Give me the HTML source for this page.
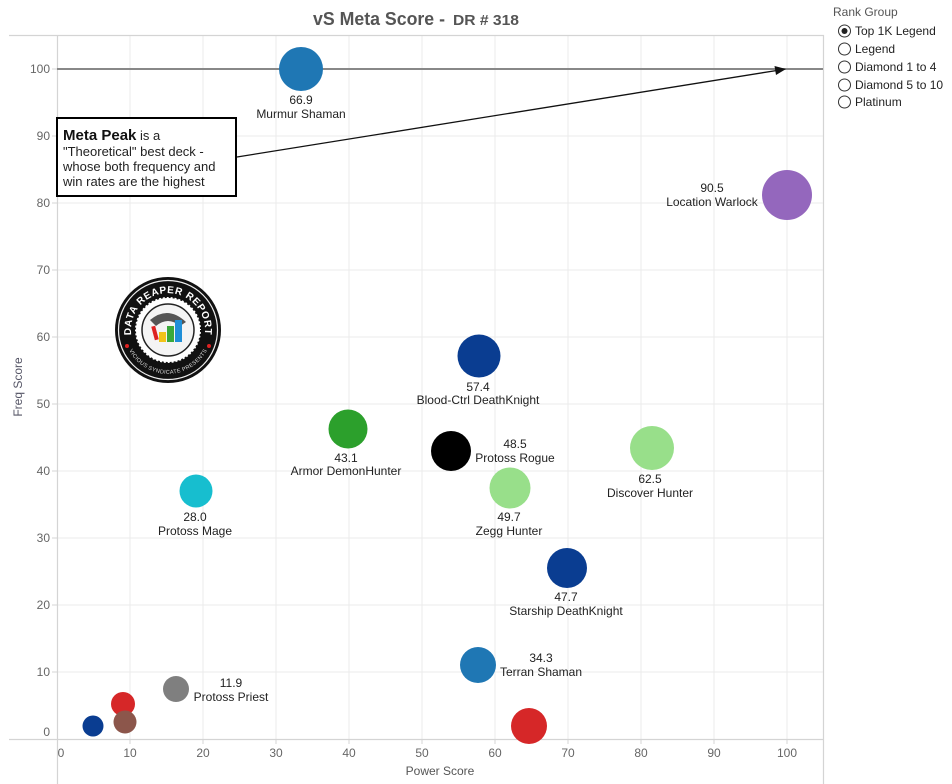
<!DOCTYPE html>
<html><head><meta charset="utf-8"><style>
html,body{margin:0;padding:0;background:#fff;}
svg{display:block;font-family:"Liberation Sans",Arial,sans-serif;}
</style></head><body>
<svg width="952" height="784" viewBox="0 0 952 784" xmlns="http://www.w3.org/2000/svg">
<!-- title -->
<text x="313" y="25" font-size="18" font-weight="bold" fill="#555" textLength="132" lengthAdjust="spacingAndGlyphs">vS Meta Score -</text>
<text x="453" y="25" font-size="15" font-weight="bold" fill="#555" textLength="66" lengthAdjust="spacingAndGlyphs">DR # 318</text>

<!-- gridlines -->
<g stroke="#ebebeb" stroke-width="1">
<line x1="130" y1="35" x2="130" y2="739"/><line x1="203" y1="35" x2="203" y2="739"/>
<line x1="276" y1="35" x2="276" y2="739"/><line x1="349" y1="35" x2="349" y2="739"/>
<line x1="422" y1="35" x2="422" y2="739"/><line x1="495" y1="35" x2="495" y2="739"/>
<line x1="568" y1="35" x2="568" y2="739"/><line x1="641" y1="35" x2="641" y2="739"/>
<line x1="714" y1="35" x2="714" y2="739"/><line x1="787" y1="35" x2="787" y2="739"/>
<line x1="57" y1="136" x2="823" y2="136"/><line x1="57" y1="203" x2="823" y2="203"/>
<line x1="57" y1="270" x2="823" y2="270"/><line x1="57" y1="337" x2="823" y2="337"/>
<line x1="57" y1="404" x2="823" y2="404"/><line x1="57" y1="471" x2="823" y2="471"/>
<line x1="57" y1="538" x2="823" y2="538"/><line x1="57" y1="605" x2="823" y2="605"/>
<line x1="57" y1="672" x2="823" y2="672"/>
</g>
<!-- borders/axes -->
<g stroke="#d4d4d4" stroke-width="1.2">
<line x1="9" y1="35.5" x2="824" y2="35.5"/>
<line x1="9" y1="739.5" x2="824" y2="739.5"/>
<line x1="57.5" y1="35" x2="57.5" y2="784"/>
<line x1="823.5" y1="35" x2="823.5" y2="784"/>
</g>
<!-- ticks -->
<g stroke="#d4d4d4" stroke-width="1">
<line x1="52" y1="69" x2="57" y2="69"/><line x1="52" y1="136" x2="57" y2="136"/><line x1="52" y1="203" x2="57" y2="203"/>
<line x1="52" y1="270" x2="57" y2="270"/><line x1="52" y1="337" x2="57" y2="337"/><line x1="52" y1="404" x2="57" y2="404"/>
<line x1="52" y1="471" x2="57" y2="471"/><line x1="52" y1="538" x2="57" y2="538"/><line x1="52" y1="605" x2="57" y2="605"/>
<line x1="52" y1="672" x2="57" y2="672"/>
<line x1="130" y1="739" x2="130" y2="744"/><line x1="203" y1="739" x2="203" y2="744"/><line x1="276" y1="739" x2="276" y2="744"/>
<line x1="349" y1="739" x2="349" y2="744"/><line x1="422" y1="739" x2="422" y2="744"/><line x1="495" y1="739" x2="495" y2="744"/>
<line x1="568" y1="739" x2="568" y2="744"/><line x1="641" y1="739" x2="641" y2="744"/><line x1="714" y1="739" x2="714" y2="744"/>
<line x1="787" y1="739" x2="787" y2="744"/>
</g>
<!-- y labels -->
<g font-size="12" fill="#666" text-anchor="end">
<text x="50" y="73">100</text><text x="50" y="140">90</text><text x="50" y="207">80</text>
<text x="50" y="274">70</text><text x="50" y="341">60</text><text x="50" y="408">50</text>
<text x="50" y="475">40</text><text x="50" y="542">30</text><text x="50" y="609">20</text>
<text x="50" y="676">10</text><text x="50" y="736">0</text>
</g>
<!-- x labels -->
<g font-size="12" fill="#666" text-anchor="middle">
<text x="61" y="757">0</text><text x="130" y="757">10</text><text x="203" y="757">20</text>
<text x="276" y="757">30</text><text x="349" y="757">40</text><text x="422" y="757">50</text>
<text x="495" y="757">60</text><text x="568" y="757">70</text><text x="641" y="757">80</text>
<text x="714" y="757">90</text><text x="787" y="757">100</text>
</g>
<text x="440" y="775" font-size="12" fill="#555" text-anchor="middle">Power Score</text>
<text transform="translate(22,387) rotate(-90)" font-size="12" fill="#556" text-anchor="middle">Freq Score</text>

<!-- meta peak line -->
<line x1="57" y1="69" x2="823" y2="69" stroke="#888" stroke-width="2"/>

<!-- logo -->
<g>
<circle cx="168" cy="330" r="53" fill="#111"/>
<circle cx="168" cy="330" r="49.5" fill="none" stroke="#eee" stroke-width="1.2"/>
<circle cx="168" cy="330" r="33" fill="#fff" stroke="#111" stroke-width="2" stroke-dasharray="2 2"/>
<circle cx="168" cy="330" r="26" fill="#f4f4f4" stroke="#222" stroke-width="1.5"/>
<defs>
<path id="arcTop" d="M133.2,342.7 A37,37 0 1 1 202.8,342.7"/>
<path id="arcBot" d="M131,345 A40,40 0 0 0 205,345"/>
</defs>
<text font-size="10" font-weight="bold" fill="#fff" letter-spacing="0.6"><textPath href="#arcTop" startOffset="50%" text-anchor="middle">DATA REAPER REPORT</textPath></text>
<text font-size="5.5" fill="#ddd" dy="4"><textPath href="#arcBot" startOffset="50%" text-anchor="middle">VICIOUS SYNDICATE PRESENTS</textPath></text>
<circle cx="127" cy="346" r="2" fill="#d22"/><circle cx="209" cy="346" r="2" fill="#d22"/>
<path d="M150,320 Q168,305 186,322 L180,326 Q168,316 156,326 Z" fill="#555"/>
<rect x="159" y="332" width="7" height="10" fill="#f2c318"/>
<rect x="167" y="326" width="7" height="16" fill="#3aa93a"/>
<rect x="175" y="320" width="7" height="22" fill="#1f8fd8"/>
<rect x="153" y="326" width="4" height="14" fill="#d22" transform="rotate(-15 155 333)"/>
</g>

<!-- annotation box -->
<line x1="237" y1="157" x2="776" y2="70.6" stroke="#111" stroke-width="1.3"/>
<path d="M786,69 L774.5,66 L776,75 Z" fill="#111"/>
<rect x="57" y="118" width="179" height="78" fill="#fff" stroke="#000" stroke-width="2"/>
<g font-size="13" fill="#222">
<text x="63" y="140"><tspan font-size="15" font-weight="bold" fill="#111">Meta Peak</tspan> is a</text>
<text x="63" y="156">"Theoretical" best deck -</text>
<text x="63" y="171">whose both frequency and</text>
<text x="63" y="186">win rates are the highest</text>
</g>

<!-- bubbles -->
<circle cx="301" cy="69" r="22" fill="#1f77b4"/>
<circle cx="787" cy="195" r="25" fill="#9467bd"/>
<circle cx="652" cy="448" r="22" fill="#98df8a"/>
<circle cx="479" cy="356" r="21.5" fill="#0a3d91"/>
<circle cx="348" cy="429" r="19.5" fill="#2ca02c"/>
<circle cx="451" cy="451" r="20" fill="#000"/>
<circle cx="510" cy="488" r="20.5" fill="#98df8a"/>
<circle cx="196" cy="491" r="16.5" fill="#17becf"/>
<circle cx="567" cy="568" r="20" fill="#0a3d91"/>
<circle cx="478" cy="665" r="18" fill="#1f77b4"/>
<circle cx="529" cy="726" r="18" fill="#d62728"/>
<circle cx="176" cy="689" r="13" fill="#7f7f7f"/>
<circle cx="123" cy="704" r="12" fill="#d62728"/>
<circle cx="125" cy="722" r="11.5" fill="#8c564b"/>
<circle cx="93" cy="726" r="10.5" fill="#0a3d91"/>

<!-- labels -->
<g font-size="12" fill="#222" text-anchor="middle">
<text x="301" y="104">66.9</text><text x="301" y="118">Murmur Shaman</text>
<text x="712" y="192">90.5</text><text x="712" y="206">Location Warlock</text>
<text x="650" y="483">62.5</text><text x="650" y="497">Discover Hunter</text>
<text x="478" y="391">57.4</text><text x="478" y="404">Blood-Ctrl DeathKnight</text>
<text x="346" y="462">43.1</text><text x="346" y="475">Armor DemonHunter</text>
<text x="515" y="448">48.5</text><text x="515" y="462">Protoss Rogue</text>
<text x="509" y="521">49.7</text><text x="509" y="535">Zegg Hunter</text>
<text x="195" y="521">28.0</text><text x="195" y="535">Protoss Mage</text>
<text x="566" y="601">47.7</text><text x="566" y="615">Starship DeathKnight</text>
<text x="541" y="662">34.3</text><text x="541" y="676">Terran Shaman</text>
<text x="231" y="687">11.9</text><text x="231" y="701">Protoss Priest</text>
</g>

<!-- legend -->
<text x="833" y="16" font-size="12" fill="#555">Rank Group</text>
<g font-size="12" fill="#222">
<circle cx="844.5" cy="31" r="6" fill="#fff" stroke="#333" stroke-width="1"/>
<circle cx="844.5" cy="31" r="3" fill="#222"/>
<text x="855" y="35">Top 1K Legend</text>
<circle cx="844.5" cy="49" r="6" fill="#fff" stroke="#333" stroke-width="1"/>
<text x="855" y="53">Legend</text>
<circle cx="844.5" cy="67" r="6" fill="#fff" stroke="#333" stroke-width="1"/>
<text x="855" y="71">Diamond 1 to 4</text>
<circle cx="844.5" cy="85" r="6" fill="#fff" stroke="#333" stroke-width="1"/>
<text x="855" y="89">Diamond 5 to 10</text>
<circle cx="844.5" cy="102" r="6" fill="#fff" stroke="#333" stroke-width="1"/>
<text x="855" y="106">Platinum</text>
</g>
</svg>
</body></html>
